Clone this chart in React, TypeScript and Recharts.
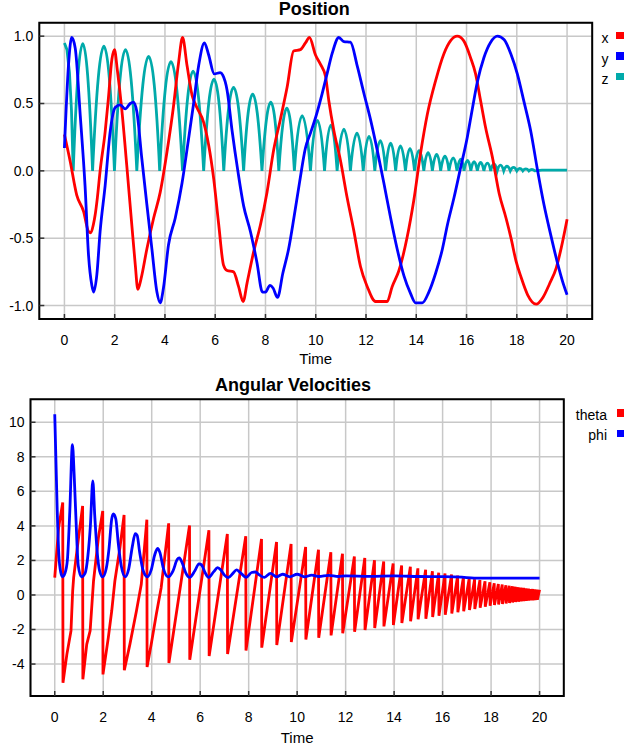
import React from 'react';
import { LineChart, Line, XAxis, YAxis, CartesianGrid, ReferenceArea } from 'recharts';

const FONT = '"Liberation Sans", Arial, sans-serif';

// shared time axis
const timeTicks = [0, 2, 4, 6, 8, 10, 12, 14, 16, 18, 20];
const posTicks = [-1, -0.5, 0, 0.5, 1];
const velTicks = [-4, -2, 0, 2, 4, 6, 8, 10];

// Position: [time, value]
const xPos: [number, number][] = [
  [0, 0.27], [0.23, 0.07], [0.49, -0.18], [0.76, -0.3], [0.96, -0.45], [1.05, -0.46], [1.15, -0.4], [1.22, -0.33],
  [1.31, -0.2], [1.42, 0.0], [1.62, 0.29], [1.75, 0.54], [1.89, 0.83], [1.99, 0.9], [2.11, 0.74], [2.28, 0.46],
  [2.48, 0.04], [2.68, -0.4], [2.82, -0.7], [2.92, -0.88], [3.05, -0.8], [3.28, -0.58], [3.55, -0.35], [3.81, -0.16],
  [4.08, 0.14], [4.34, 0.48], [4.54, 0.8], [4.7, 0.99], [4.88, 0.78], [5.08, 0.56], [5.27, 0.47], [5.54, 0.36],
  [5.74, 0.19], [5.94, -0.06], [6.14, -0.4], [6.33, -0.7], [6.47, -0.74], [6.73, -0.75], [6.93, -0.86], [7.11, -0.97],
  [7.27, -0.83], [7.53, -0.6], [7.8, -0.4], [8.06, -0.16], [8.33, 0.16], [8.59, 0.38], [8.86, 0.62], [9.12, 0.89],
  [9.39, 0.9], [9.59, 0.95], [9.75, 0.99], [9.99, 0.86], [10.19, 0.79], [10.39, 0.7], [10.52, 0.52], [10.72, 0.3],
  [10.98, 0.08], [11.25, -0.2], [11.51, -0.44], [11.78, -0.71], [12.05, -0.86], [12.38, -0.97], [12.84, -0.97],
  [13.04, -0.86], [13.31, -0.74], [13.64, -0.49], [13.9, -0.22], [14.17, 0.13], [14.44, 0.42], [14.77, 0.67],
  [15.1, 0.87], [15.36, 0.965], [15.63, 1.0], [15.89, 0.965], [16.16, 0.84], [16.36, 0.72], [16.56, 0.52],
  [16.76, 0.32], [17.03, 0.1], [17.3, -0.17], [17.57, -0.35], [17.77, -0.5], [17.97, -0.67], [18.17, -0.79],
  [18.43, -0.92], [18.77, -0.99], [19.04, -0.94], [19.3, -0.84], [19.57, -0.72], [19.77, -0.57], [20, -0.36],
];

const yPos: [number, number][] = [
  [0, 0.17], [0.16, 0.78], [0.29, 0.99], [0.43, 0.91], [0.63, 0.41], [0.82, -0.11], [0.96, -0.63], [1.09, -0.85],
  [1.16, -0.9], [1.29, -0.77], [1.42, -0.45], [1.62, -0.11], [1.82, 0.29], [2.02, 0.47], [2.22, 0.49], [2.42, 0.46],
  [2.62, 0.5], [2.75, 0.51], [2.88, 0.44], [3.08, 0.09], [3.28, -0.25], [3.48, -0.58], [3.68, -0.9], [3.81, -0.98],
  [3.94, -0.87], [4.14, -0.55], [4.41, -0.35], [4.68, -0.09], [4.91, 0.2], [5.14, 0.5], [5.34, 0.78], [5.57, 0.95],
  [5.74, 0.86], [5.96, 0.72], [6.2, 0.73], [6.3, 0.71], [6.47, 0.6], [6.67, 0.3], [6.9, 0.0], [7.13, -0.26],
  [7.4, -0.45], [7.66, -0.68], [7.88, -0.9], [8.0, -0.9], [8.18, -0.85], [8.3, -0.87], [8.48, -0.94], [8.69, -0.76],
  [8.92, -0.58], [9.13, -0.35], [9.36, -0.08], [9.59, 0.17], [9.79, 0.28], [10.0, 0.4], [10.25, 0.57], [10.45, 0.72],
  [10.65, 0.87], [10.92, 0.99], [11.12, 0.96], [11.38, 0.955], [11.65, 0.78], [11.91, 0.58], [12.18, 0.38],
  [12.45, 0.15], [12.71, -0.09], [12.98, -0.35], [13.24, -0.58], [13.51, -0.78], [13.77, -0.91], [13.97, -0.98],
  [14.24, -0.98], [14.5, -0.9], [14.77, -0.76], [15.04, -0.58], [15.24, -0.4], [15.5, -0.2], [15.76, 0.02],
  [16.03, 0.25], [16.23, 0.46], [16.43, 0.66], [16.69, 0.84], [16.96, 0.955], [17.23, 1.0], [17.49, 0.975],
  [17.76, 0.87], [18.02, 0.72], [18.29, 0.51], [18.55, 0.3], [18.82, 0.01], [19.08, -0.25], [19.35, -0.475],
  [19.62, -0.685], [19.82, -0.82], [20, -0.92],
];

// z bounces: touchdown points (0) and apex of each arc
const zPos: [number, number][] = [
  [0, 0.95], [0.1, 0.9], [0.2, 0.73], [0.28, 0.45], [0.35, 0],
  [0.73, 0.945], [1.12, 0], [1.57, 0.925], [1.99, 0], [2.43, 0.9], [2.88, 0],
  [3.35, 0.85], [3.79, 0], [4.24, 0.81], [4.7, 0], [5.12, 0.74], [5.54, 0],
  [5.95, 0.68], [6.34, 0], [6.73, 0.62], [7.13, 0], [7.49, 0.57], [7.86, 0],
  [8.21, 0.51], [8.53, 0], [8.85, 0.465], [9.15, 0], [9.46, 0.41], [9.79, 0],
  [10.07, 0.375], [10.35, 0], [10.6, 0.34], [10.85, 0], [11.12, 0.31], [11.38, 0],
  [11.64, 0.28], [11.89, 0], [12.12, 0.255], [12.35, 0], [12.57, 0.225], [12.78, 0],
  [12.98, 0.205], [13.18, 0], [13.37, 0.185], [13.57, 0], [13.75, 0.165], [13.93, 0],
  [14.11, 0.15], [14.3, 0], [14.47, 0.135], [14.64, 0], [14.81, 0.122], [14.97, 0],
  [15.14, 0.11], [15.3, 0], [15.47, 0.097], [15.62, 0], [15.77, 0.086], [15.9, 0],
  [16.04, 0.077], [16.17, 0], [16.3, 0.068], [16.43, 0], [16.56, 0.062], [16.69, 0],
  [16.83, 0.057], [16.96, 0], [17.09, 0.051], [17.22, 0], [17.35, 0.043], [17.48, 0],
  [17.61, 0.034], [17.74, 0], [17.87, 0.026], [18.0, 0], [18.12, 0.019], [18.24, 0],
  [18.36, 0.014], [18.48, 0], [18.6, 0.01], [18.72, 0], [19.0, 0.005], [20, 0.005],
];

// Angular velocities: [time, value]
const theta: [number, number][] = [
  [0, 1.0], [0.16, 3.9], [0.33, 5.35], [0.34, -5.08], [0.5, -3.44], [0.67, -2.08], [0.74, 0.23], [0.78, 1.0],
  [0.98, 3.3], [1.15, 5.15], [1.16, -4.88], [1.32, -2.86], [1.46, -2.08], [1.6, 0.81], [1.8, 3.3], [1.98, 4.86],
  [1.99, -4.6], [2.21, -2.47], [2.35, -0.93], [2.48, 0.81], [2.69, 2.74], [2.86, 4.63], [2.87, -4.36], [3.1, -2.86],
  [3.37, -0.93], [3.57, 0.62], [3.8, 4.36], [3.81, -4.17], [3.98, -2.86], [4.19, -1.12], [4.39, 0.42], [4.7, 4.15],
  [4.71, -3.94], [5.56, 4.02], [5.57, -3.75], [6.36, 3.75], [6.37, -3.53], [7.12, 3.53], [7.13, -3.42],
  [7.88, 3.4], [7.89, -3.22], [8.53, 3.24], [8.54, -3.05], [9.15, 3.07], [9.16, -2.9], [9.75, 2.95], [9.76, -2.72],
  [10.35, 2.78], [10.36, -2.58], [10.88, 2.62], [10.89, -2.48], [11.39, 2.47], [11.4, -2.34], [11.87, 2.39],
  [11.88, -2.22], [12.36, 2.23], [12.37, -2.13], [12.79, 2.14], [12.8, -2.03], [13.19, 2.01], [13.2, -1.91],
  [13.57, 1.94], [13.58, -1.82], [13.96, 1.82], [13.97, -1.74], [14.31, 1.71], [14.32, -1.62], [14.67, 1.64],
  [14.68, -1.52], [14.98, 1.54], [14.99, -1.41], [15.3, 1.46], [15.31, -1.38], [15.58, 1.37], [15.59, -1.28],
  [15.84, 1.29], [15.85, -1.2], [16.1, 1.24], [16.11, -1.15], [16.37, 1.18], [16.38, -1.07], [16.62, 1.12],
  [16.63, -1.0], [16.86, 1.06], [16.87, -0.94], [17.1, 0.98], [17.11, -0.87], [17.32, 0.91], [17.33, -0.81],
  [17.54, 0.86], [17.55, -0.74], [17.75, 0.8], [17.76, -0.68], [17.95, 0.74], [17.96, -0.62], [18.13, 0.68],
  [18.14, -0.58], [18.3, 0.64], [18.31, -0.55], [18.46, 0.6], [18.47, -0.52], [18.61, 0.56], [18.62, -0.49],
  [18.75, 0.53], [18.76, -0.46], [18.88, 0.5], [18.89, -0.43], [19.0, 0.47], [19.01, -0.41], [19.12, 0.45],
  [19.13, -0.39], [19.23, 0.43], [19.24, -0.37], [19.34, 0.41], [19.35, -0.35], [19.44, 0.39], [19.45, -0.33],
  [19.54, 0.37], [19.55, -0.32], [19.63, 0.35], [19.64, -0.31], [19.72, 0.34], [19.73, -0.3], [19.81, 0.33],
  [19.82, -0.29], [19.9, 0.32], [19.91, -0.28], [20, 0.3],
];

const phi: [number, number][] = [
  [0, 10.46], [0.1, 5.0], [0.17, 2.3], [0.25, 1.3], [0.32, 1.05], [0.42, 1.25], [0.52, 2.0], [0.62, 4.8],
  [0.73, 8.7], [0.8, 7.0], [0.87, 4.6], [0.97, 1.7], [1.1, 1.05], [1.25, 1.25], [1.37, 2.3], [1.47, 4.0],
  [1.57, 6.6], [1.65, 4.6], [1.75, 2.5], [1.85, 1.4], [1.98, 1.05], [2.12, 1.5], [2.24, 2.7], [2.35, 4.4],
  [2.42, 4.7], [2.52, 4.4], [2.62, 3.0], [2.74, 1.7], [2.9, 1.05], [3.05, 1.5], [3.2, 2.8], [3.32, 3.55],
  [3.4, 3.45], [3.5, 2.5], [3.65, 1.4], [3.82, 1.05], [3.98, 1.45], [4.12, 2.3], [4.24, 2.7], [4.34, 2.45],
  [4.47, 1.6], [4.68, 1.05], [4.88, 1.4], [5.05, 2.05], [5.14, 2.15], [5.26, 1.85], [5.4, 1.3], [5.57, 1.02],
  [5.78, 1.4], [5.95, 1.8], [6.05, 1.75], [6.2, 1.3], [6.35, 1.02], [6.56, 1.35], [6.72, 1.58], [6.85, 1.45],
  [7.0, 1.15], [7.15, 1.0], [7.35, 1.25], [7.5, 1.45], [7.65, 1.3], [7.9, 1.02], [8.12, 1.3], [8.28, 1.33],
  [8.45, 1.15], [8.65, 1.02], [8.9, 1.25], [9.15, 1.05], [9.4, 1.2], [9.7, 1.05], [10.0, 1.2], [10.3, 1.05],
  [10.6, 1.15], [10.9, 1.07], [11.3, 1.13], [11.7, 1.07], [12.0, 1.1], [13.0, 1.08], [14.0, 1.1], [15.0, 1.07],
  [16.0, 1.06], [16.8, 1.03], [17.3, 0.98], [20, 0.98],
];

const toRows = (pts: [number, number][]) => pts.map(([t, v]) => ({ t, v }));

// curve for the bounce trace: each apex between two lower points is drawn as a
// parabolic arc (quadratic bezier), everything else as straight segments
function bounceCurve(context: any) {
  let pts: [number, number][] = [];
  return {
    areaStart() {},
    areaEnd() {},
    lineStart() { pts = []; },
    point(x: number, y: number) { pts.push([+x, +y]); },
    lineEnd() {
      if (!pts.length) return;
      context.moveTo(pts[0][0], pts[0][1]);
      let i = 0;
      while (i < pts.length - 1) {
        const a = pts[i], b = pts[i + 1], c = pts[i + 2];
        if (c && b[1] < a[1] && b[1] < c[1]) {
          const cx = 2 * b[0] - (a[0] + c[0]) / 2;
          const cy = 2 * b[1] - (a[1] + c[1]) / 2;
          context.quadraticCurveTo(cx, cy, c[0], c[1]);
          i += 2;
        } else {
          context.lineTo(b[0], b[1]);
          i += 1;
        }
      }
    },
  };
}

const tickLine = { stroke: '#333', strokeWidth: 1.5 };
const tickText = { fill: '#000', fontSize: 14, fontFamily: FONT };

function LegendItem({ label, color, top, textRight, boxLeft, boxTop }: any) {
  return (
    <>
      <div style={{ position: 'absolute', top, right: 626 - textRight, fontSize: 14, lineHeight: '16px', whiteSpace: 'nowrap' }}>
        {label}
      </div>
      <div style={{ position: 'absolute', left: boxLeft, top: boxTop, width: 7.5, height: 7.5, background: color }} />
    </>
  );
}

export default function App() {
  return (
    <div style={{ position: 'absolute', left: 0, top: 0, width: 626, height: 751, background: '#fff', fontFamily: FONT, color: '#000', overflow: 'hidden' }}>
      <div style={{ position: 'absolute', left: 214.3, top: -1, width: 200, textAlign: 'center', fontSize: 18, fontWeight: 'bold', lineHeight: '20px' }}>
        Position
      </div>
      <div style={{ position: 'absolute', left: 0, top: 0 }}>
        <LineChart width={626} height={375} margin={{ top: 22.7, right: 33.8, bottom: 0, left: 0 }}>
          <CartesianGrid stroke="#c8c8c8" strokeWidth={1.5} />
          <XAxis type="number" dataKey="t" domain={[-1, 21]} ticks={timeTicks} height={56} axisLine={false}
            tickSize={-5} tickMargin={21} tickLine={tickLine} tick={tickText}
            label={{ value: 'Time', position: 'insideBottom', offset: 11.5, fill: '#000', fontSize: 15, fontFamily: FONT }} />
          <XAxis xAxisId="top" orientation="top" type="number" domain={[-1, 21]} ticks={timeTicks} height={0}
            axisLine={false} tick={false} tickSize={-5} tickLine={tickLine} />
          <YAxis type="number" domain={[-1.1, 1.1]} ticks={posTicks} width={39.3} axisLine={false}
            tickSize={-5} tickMargin={11} tickLine={tickLine} tick={tickText} tickFormatter={(v: number) => v.toFixed(1)} />
          <YAxis yAxisId="right" orientation="right" type="number" domain={[-1.1, 1.1]} ticks={posTicks} width={0}
            axisLine={false} tick={false} tickSize={-5} tickLine={tickLine} />
          <Line data={toRows(zPos)} dataKey="v" type={bounceCurve as any} stroke="#00aaaa" strokeWidth={2.8} dot={false} activeDot={false} isAnimationActive={false} />
          <Line data={toRows(xPos)} dataKey="v" type="monotone" stroke="#ff0000" strokeWidth={2.8} dot={false} activeDot={false} isAnimationActive={false} />
          <Line data={toRows(yPos)} dataKey="v" type="monotone" stroke="#0000ff" strokeWidth={2.8} dot={false} activeDot={false} isAnimationActive={false} />
          <ReferenceArea x1={-1} x2={21} y1={-1.1} y2={1.1} ifOverflow="visible" stroke="#000" strokeWidth={2} fill="none" fillOpacity={0} />
        </LineChart>
      </div>
      <LegendItem label="x" color="#ff0000" top={30.4} textRight={608.5} boxLeft={616} boxTop={31.7} />
      <LegendItem label="y" color="#0000ff" top={50.8} textRight={608.5} boxLeft={616} boxTop={52.3} />
      <LegendItem label="z" color="#00aaaa" top={71.2} textRight={608.5} boxLeft={616} boxTop={72.7} />

      <div style={{ position: 'absolute', left: 193, top: 375.4, width: 200, textAlign: 'center', fontSize: 18, fontWeight: 'bold', lineHeight: '20px', whiteSpace: 'nowrap' }}>
        Angular Velocities
      </div>
      <div style={{ position: 'absolute', left: 0, top: 375 }}>
        <LineChart width={626} height={376} margin={{ top: 24.3, right: 62.2, bottom: 0, left: 0 }}>
          <CartesianGrid stroke="#c8c8c8" strokeWidth={1.5} />
          <XAxis type="number" dataKey="t" domain={[-1, 21]} ticks={timeTicks} height={55} axisLine={false}
            tickSize={-5} tickMargin={21} tickLine={tickLine} tick={tickText}
            label={{ value: 'Time', position: 'insideBottom', offset: 8, fill: '#000', fontSize: 15, fontFamily: FONT }} />
          <XAxis xAxisId="top" orientation="top" type="number" domain={[-1, 21]} ticks={timeTicks} height={0}
            axisLine={false} tick={false} tickSize={-5} tickLine={tickLine} />
          <YAxis type="number" domain={[-5.85, 11.33]} ticks={velTicks} width={30.5} axisLine={false}
            tickSize={-5} tickMargin={11} tickLine={tickLine} tick={tickText} />
          <YAxis yAxisId="right" orientation="right" type="number" domain={[-5.85, 11.33]} ticks={velTicks} width={0}
            axisLine={false} tick={false} tickSize={-5} tickLine={tickLine} />
          <Line data={toRows(theta)} dataKey="v" type="linear" stroke="#ff0000" strokeWidth={2.8} dot={false} activeDot={false} isAnimationActive={false} />
          <Line data={toRows(phi)} dataKey="v" type="monotone" stroke="#0000ff" strokeWidth={2.8} dot={false} activeDot={false} isAnimationActive={false} />
          <ReferenceArea x1={-1} x2={21} y1={-5.85} y2={11.33} ifOverflow="visible" stroke="#000" strokeWidth={2} fill="none" fillOpacity={0} />
        </LineChart>
      </div>
      <LegendItem label="theta" color="#ff0000" top={407.3} textRight={607} boxLeft={616.7} boxTop={409.3} />
      <LegendItem label="phi" color="#0000ff" top={427.3} textRight={607} boxLeft={616.7} boxTop={429.7} />
    </div>
  );
}
